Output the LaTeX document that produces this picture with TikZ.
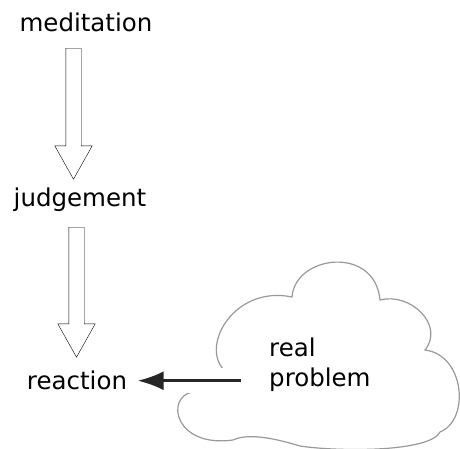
\documentclass[tikz,border=0pt]{standalone}
\usepackage{fontspec}
\setmainfont{DejaVu Sans}
\usetikzlibrary{arrows.meta,shapes.arrows}
\begin{document}
\begin{tikzpicture}[x=1pt,y=-1pt,
    font=\fontsize{24.5}{30.7}\selectfont,
    hollow/.style={single arrow,draw,thin,shape border rotate=270,minimum height=131pt,
      minimum width=37pt,inner sep=7.5pt,single arrow head extend=11pt,single arrow tip angle=58.5,anchor=tail},
    pointer/.style={-{Latex[length=26pt,width=19pt]},line width=3pt,black!85,shorten >=7pt,
      preaction={draw=white,line width=25pt,-}},
    cloudline/.style={draw=black!40,line width=1.2pt}]
            \useasboundingbox (0,0) rectangle (460,448);
            % cloud
            \draw[cloudline] (224,370) .. controls (200,345) and (235,285) .. (292,297)
              .. controls (295,255) and (375,245) .. (380,300)
              .. controls (410,292) and (445,325) .. (425,350)
              .. controls (465,355) and (470,420) .. (440,432)
              .. controls (430,452) and (340,452) .. (300,446)
              .. controls (280,440) and (250,432) .. (233,440)
              .. controls (175,448) and (165,398) .. (192,392)
              .. controls (200,385) and (215,375) .. cycle;
            \node[anchor=base](med)at(86,31.7){meditation};
            \node[anchor=base](jud)at(80,206.7){judgement};
            \node[anchor=base](rea)at(77,389){reaction};
            \node[anchor=base west,align=left,inner sep=0pt](prob)at(269,386.7){real\\problem};
            \node[hollow](dn1)at(73.5,48){};
            \node[hollow,minimum height=130pt](dn2)at(76.5,227){};
            \coordinate(src)at(241,380.7);
            \draw[pointer](src)--(src -| rea.east);
        \end{tikzpicture}
\end{document}
